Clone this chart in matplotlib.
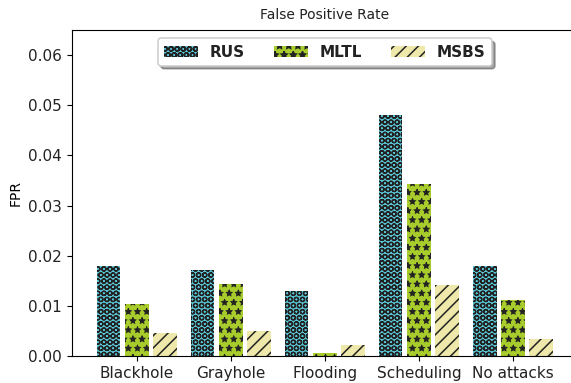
import numpy as np
import matplotlib
matplotlib.use('Agg')
import matplotlib.pyplot as plt

## values
attacks = ['Blackhole', 'Grayhole', 'Flooding', 'Scheduling', 'No attacks']
rus = [0.0179, 0.0171, 0.0130, 0.0481, 0.0179]
mltl = [0.0104, 0.0143, 0.0006, 0.0343, 0.0112]
msbs = [0.0046, 0.0050, 0.0022, 0.0141, 0.0034]

## the hatch cell follows the dpi, so the dpi sets the pattern size
DPI = 110
k = 100 / DPI

plt.rcParams['text.color'] = '#222222'
plt.rcParams['xtick.labelcolor'] = '#222222'
plt.rcParams['ytick.labelcolor'] = '#222222'
plt.rcParams['axes.linewidth'] = 0.8 * k
plt.rcParams['xtick.major.width'] = 0.8 * k
plt.rcParams['ytick.major.width'] = 0.8 * k
plt.rcParams['xtick.major.size'] = 3.5 * k
plt.rcParams['ytick.major.size'] = 3.5 * k
plt.rcParams['xtick.major.pad'] = 3.5 * k
plt.rcParams['ytick.major.pad'] = 3.5 * k

fig = plt.figure(figsize=(571 / DPI, 383 / DPI), dpi=DPI)
ax = fig.add_axes([0.126, 0.0705, 0.886, 0.851])

x = np.arange(len(attacks))
w = 0.25
## hatch linewidth is picked up when each bar set is made
plt.rcParams['hatch.linewidth'] = 0.85
ax.bar(x - 0.3, rus, w, color='#5bc8d8', edgecolor='#222222', linewidth=0, hatch='OOO', label='RUS')
plt.rcParams['hatch.linewidth'] = 0.6
ax.bar(x, mltl, w, color='#a8cc2c', edgecolor='#222222', linewidth=0, hatch='**', label='MLTL')
plt.rcParams['hatch.linewidth'] = 1.0
ax.bar(x + 0.3, msbs, w, color='#eee8aa', edgecolor='#222222', linewidth=0, hatch='///', label='MSBS')

ax.set_xlim(-0.69, 4.69)
ax.set_ylim(0, 0.065)
ax.set_xticks(x)
ax.set_xticklabels(attacks, fontsize=11 * k)
ax.set_yticks([0, 0.01, 0.02, 0.03, 0.04, 0.05, 0.06])
ax.set_yticklabels(['0.00', '0.01', '0.02', '0.03', '0.04', '0.05', '0.06'], fontsize=11 * k)
ax.set_ylabel('FPR', fontsize=10 * k, labelpad=4 * k)
ax.set_title('False Positive Rate', fontsize=10 * k, pad=8 * k)

ax.legend(loc='upper center', bbox_to_anchor=(0.5, 1.0), ncol=3, shadow=True, fancybox=True,
          prop={'weight': 'bold', 'size': 11 * k}, handlelength=2.2, columnspacing=1.9,
          borderaxespad=0.55, framealpha=1)

plt.savefig('out.png', dpi=DPI)
